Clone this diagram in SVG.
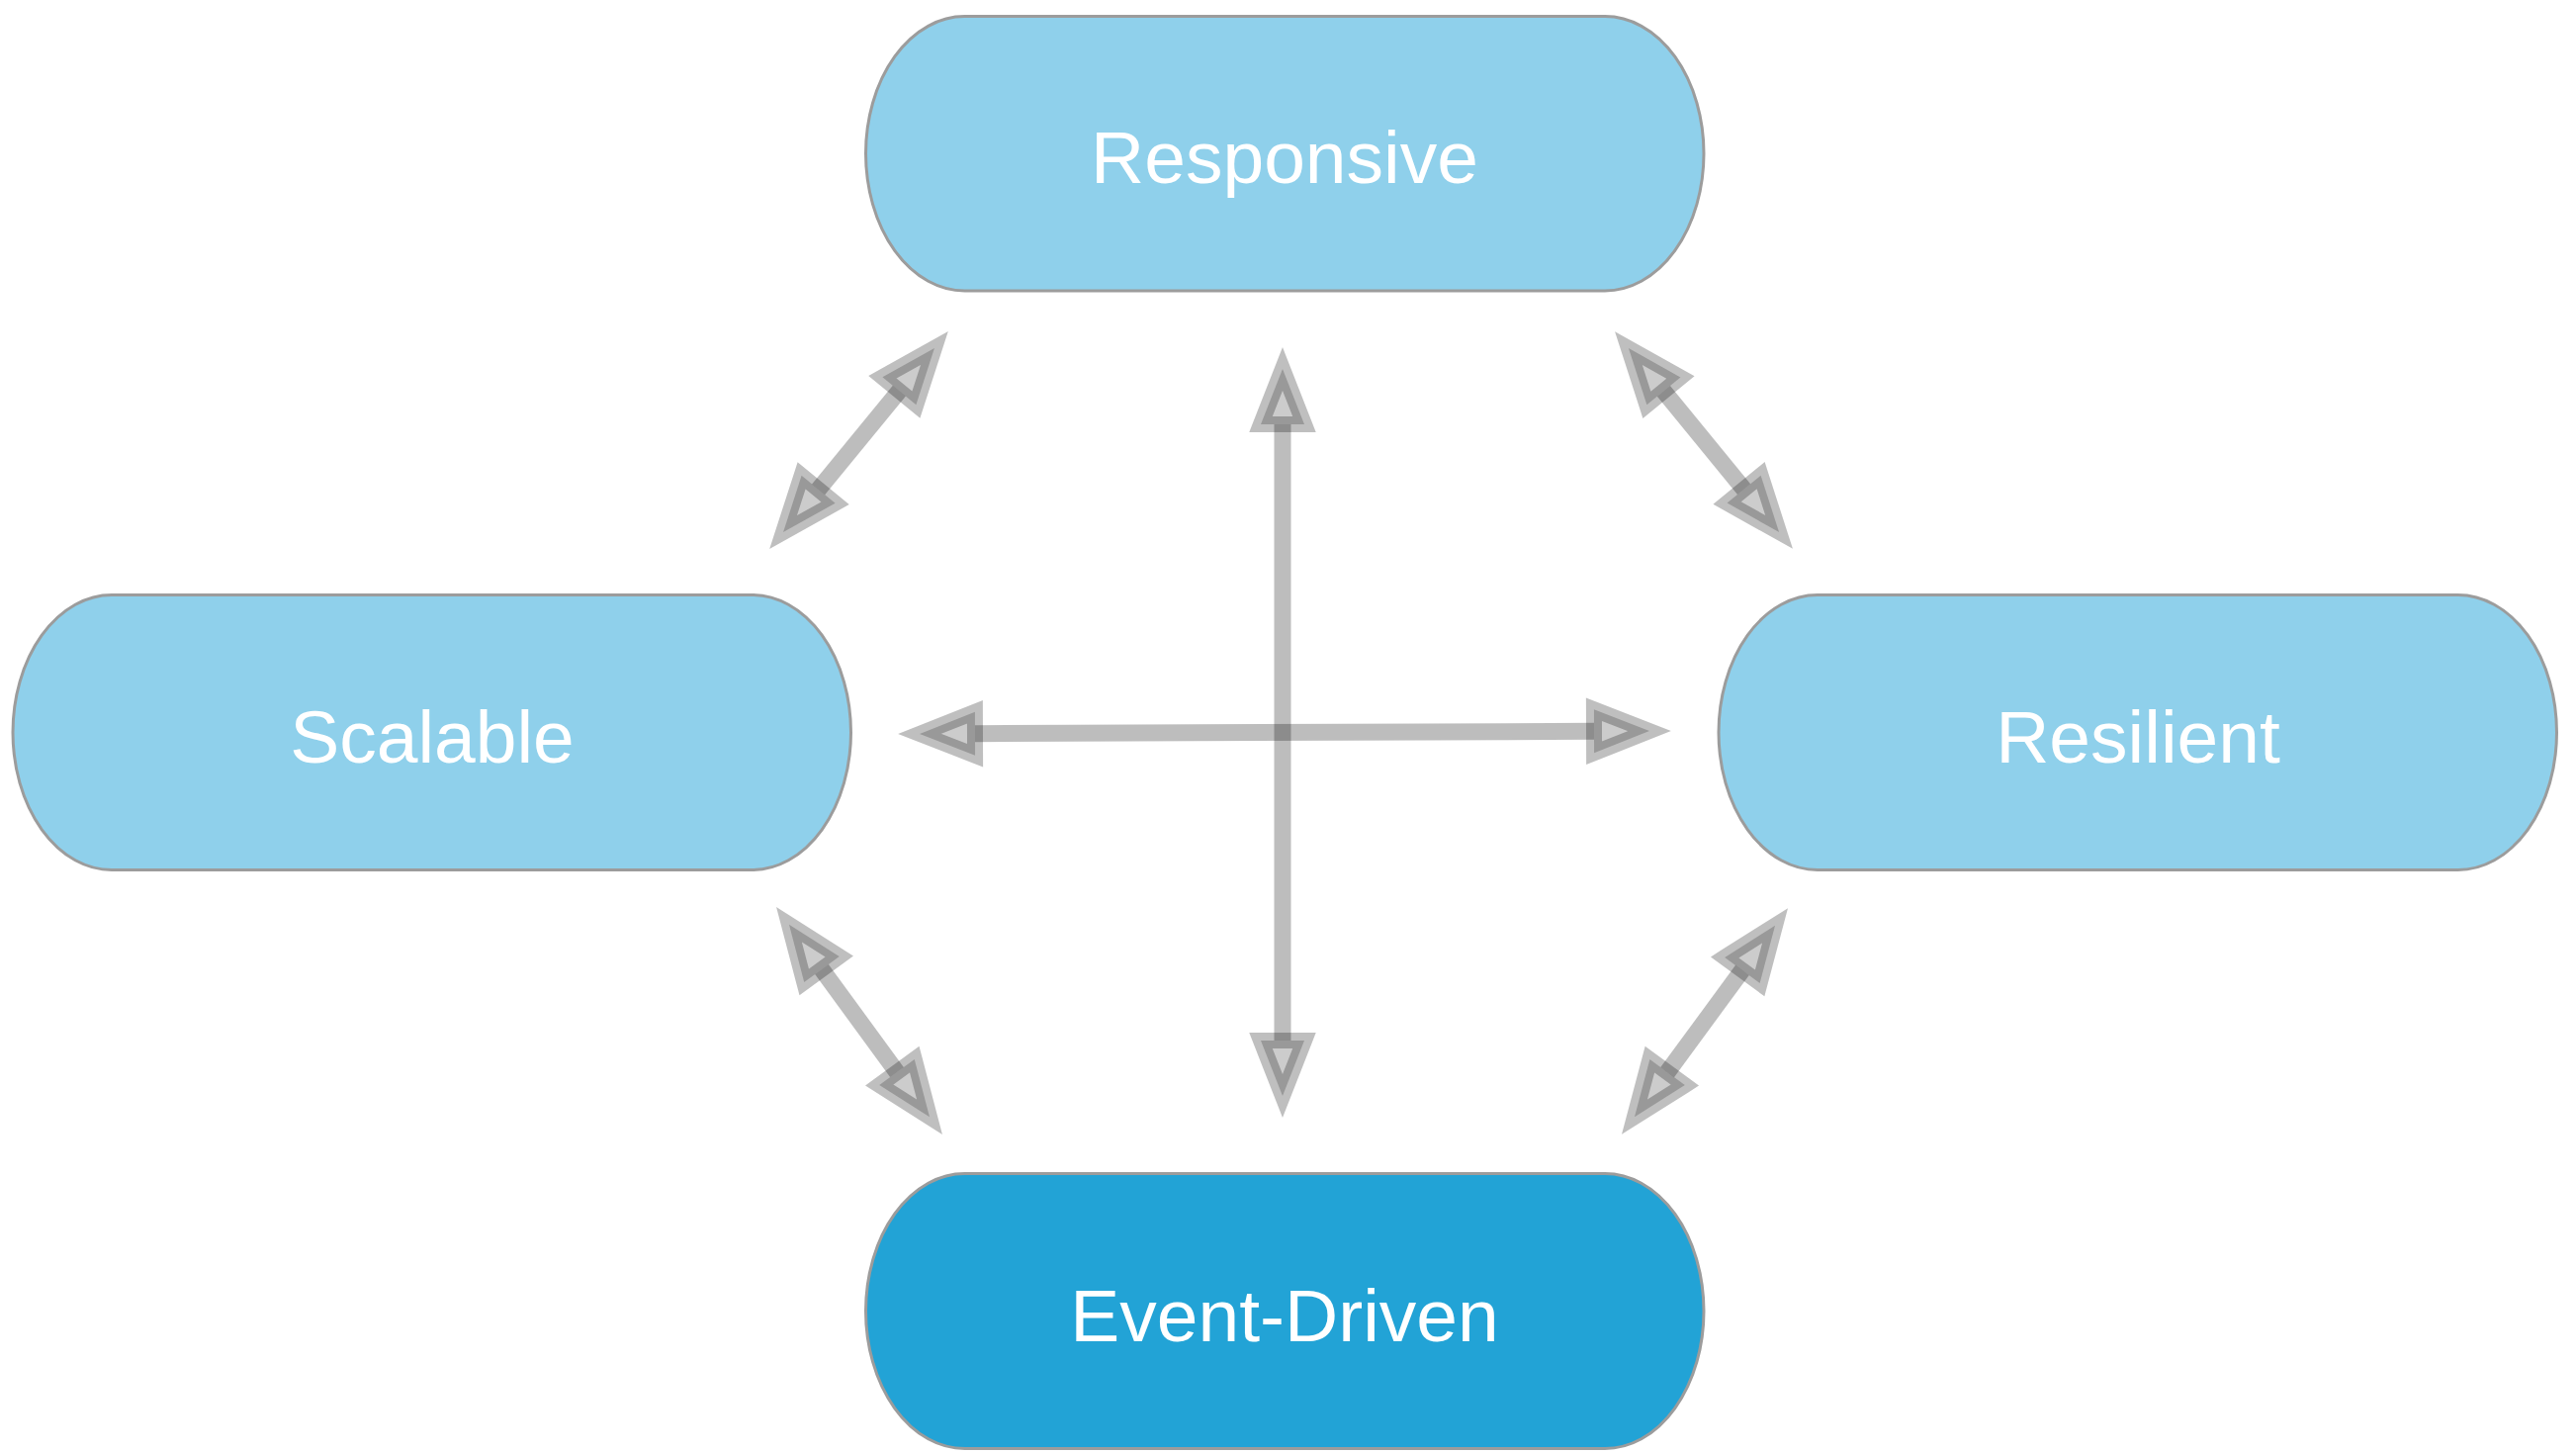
<svg xmlns="http://www.w3.org/2000/svg" width="2605" height="1469" viewBox="0 0 2605 1469">
<defs>
<style>
.node{stroke:#9c9c9c;stroke-width:3}
.light{fill:#8fd0eb}
.dark{fill:#22a3d6}
.label{font-family:"Liberation Sans",Arial,Helvetica,sans-serif;font-size:75px;fill:#ffffff;text-anchor:middle}
.shaft{stroke:rgba(0,0,0,0.26);stroke-width:17;stroke-linecap:butt;fill:none}
.head{fill:rgba(0,0,0,0.2);stroke:rgba(0,0,0,0.25);stroke-width:16;stroke-linejoin:miter;stroke-miterlimit:10}
</style>
<marker id="tri" markerUnits="userSpaceOnUse" markerWidth="240" markerHeight="240" refX="0" refY="0" orient="auto-start-reverse" overflow="visible" viewBox="-120 -120 240 240">
<path class="head" d="M0,-22 L56,0 L0,22 Z"/>
</marker>
</defs>
<rect width="2605" height="1469" fill="#ffffff"/>
<g id="connectors">
<line class="shaft" x1="1297" y1="429" x2="1297" y2="1052" marker-start="url(#tri)" marker-end="url(#tri)"/>
<line class="shaft" x1="986" y1="741.7" x2="1612" y2="739.3" marker-start="url(#tri)" marker-end="url(#tri)"/>
<line class="shaft" x1="827.6" y1="494.8" x2="909.4" y2="395.2" marker-start="url(#tri)" marker-end="url(#tri)"/>
<line class="shaft" x1="1682.4" y1="395.4" x2="1763.6" y2="494.6" marker-start="url(#tri)" marker-end="url(#tri)"/>
<line class="shaft" x1="831" y1="980" x2="907" y2="1084" marker-start="url(#tri)" marker-end="url(#tri)"/>
<line class="shaft" x1="1761.9" y1="980.9" x2="1686.1" y2="1084.1" marker-start="url(#tri)" marker-end="url(#tri)"/>
</g>
<g id="node-responsive">
<rect class="node light" x="875.5" y="16.6" width="847.5" height="277.4" rx="100" ry="138.7"/>
<text class="label" x="1299" y="185">Responsive</text>
</g>
<g id="node-scalable">
<rect class="node light" x="13" y="601.5" width="847.5" height="278" rx="100" ry="139"/>
<text class="label" x="437" y="771">Scalable</text>
</g>
<g id="node-resilient">
<rect class="node light" x="1738" y="601.5" width="847.5" height="278" rx="100" ry="139"/>
<text class="label" x="2162" y="771">Resilient</text>
</g>
<g id="node-event-driven">
<rect class="node dark" x="875.5" y="1186.5" width="847.5" height="278" rx="100" ry="139"/>
<text class="label" x="1299" y="1356">Event-Driven</text>
</g>
</svg>
